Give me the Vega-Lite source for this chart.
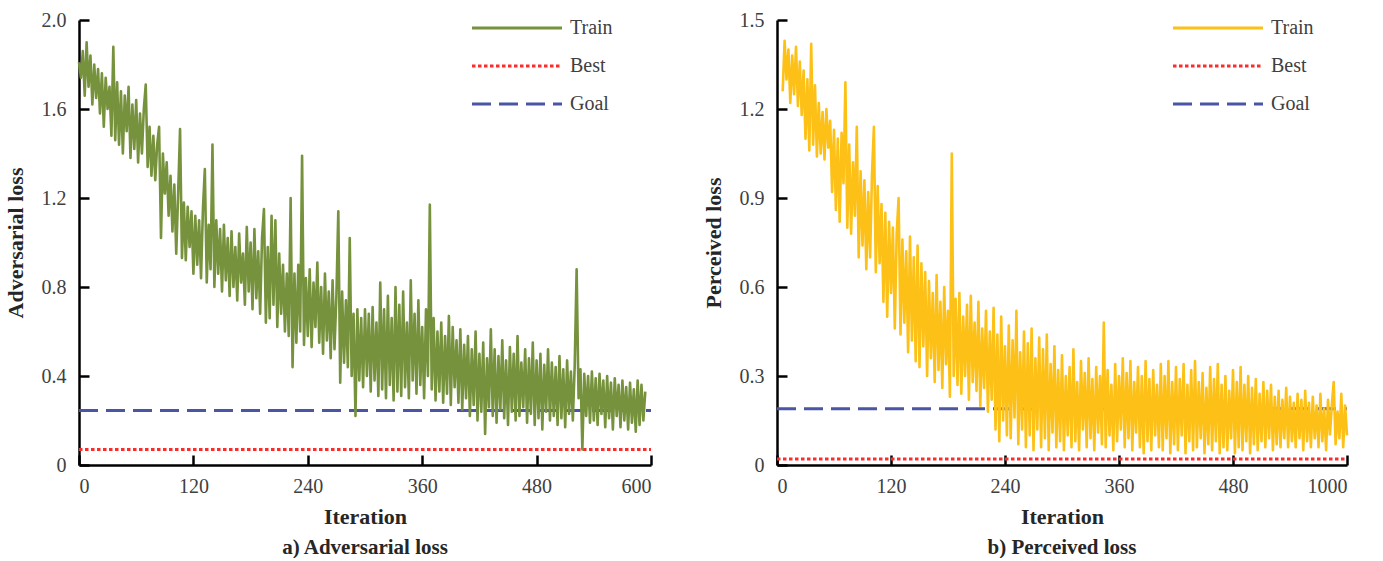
{
"$schema": "https://vega.github.io/schema/vega-lite/v6.json",
"background": "white",
"padding": {"left": 4, "top": 10, "right": 10, "bottom": 0},
"spacing": 49,
"config": {
  "font": "Liberation Serif",
  "view": {"stroke": null},
  "axis": {"grid": false, "domainColor": "black", "domainWidth": 2.5, "tickColor": "black", "tickWidth": 2.5, "tickSize": -10, "labelFontSize": 20, "labelColor": "#404040", "titleFontSize": 22, "titleFontWeight": "bold", "titleColor": "#262626"},
  "axisX": {"labelPadding": 21},
  "axisY": {"labelPadding": 23},
  "legend": {"orient": "none", "title": null, "labelFontSize": 20, "labelColor": "#404040", "symbolType": "M-1,0H17", "symbolSize": 100, "symbolStrokeWidth": 3, "labelOffset": 83, "rowPadding": 18},
  "title": {"orient": "bottom", "fontSize": 21, "fontWeight": "bold", "color": "#262626", "offset": 10},
  "line": {"strokeJoin": "round"}
},
"datasets": {
"adv": [
{"x":0,"y":1.81},{"x":2,"y":1.74},{"x":4,"y":1.86},{"x":6,"y":1.66},{"x":8,"y":1.90},{"x":10,"y":1.70},{"x":12,"y":1.84},{"x":14,"y":1.62},{"x":16,"y":1.80},{"x":18,"y":1.65},
{"x":20,"y":1.78},{"x":22,"y":1.58},{"x":24,"y":1.76},{"x":26,"y":1.52},{"x":28,"y":1.74},{"x":30,"y":1.60},{"x":32,"y":1.70},{"x":34,"y":1.48},{"x":36,"y":1.88},{"x":38,"y":1.46},
{"x":40,"y":1.72},{"x":42,"y":1.44},{"x":44,"y":1.68},{"x":46,"y":1.40},{"x":48,"y":1.66},{"x":50,"y":1.50},{"x":52,"y":1.70},{"x":54,"y":1.38},{"x":56,"y":1.62},{"x":58,"y":1.42},
{"x":60,"y":1.64},{"x":62,"y":1.36},{"x":64,"y":1.58},{"x":66,"y":1.40},{"x":68,"y":1.60},{"x":70,"y":1.71},{"x":72,"y":1.34},{"x":74,"y":1.52},{"x":76,"y":1.30},{"x":78,"y":1.48},
{"x":80,"y":1.28},{"x":82,"y":1.44},{"x":84,"y":1.52},{"x":86,"y":1.02},{"x":88,"y":1.40},{"x":90,"y":1.22},{"x":92,"y":1.36},{"x":94,"y":1.12},{"x":96,"y":1.30},{"x":98,"y":1.05},
{"x":100,"y":1.26},{"x":102,"y":0.95},{"x":104,"y":1.22},{"x":106,"y":1.51},{"x":108,"y":0.93},{"x":110,"y":1.18},{"x":112,"y":0.92},{"x":114,"y":1.16},{"x":116,"y":0.98},{"x":118,"y":1.14},
{"x":120,"y":0.86},{"x":122,"y":1.12},{"x":124,"y":0.90},{"x":126,"y":1.10},{"x":128,"y":0.84},{"x":130,"y":1.15},{"x":132,"y":1.33},{"x":134,"y":0.82},{"x":136,"y":1.08},{"x":138,"y":0.88},
{"x":140,"y":1.44},{"x":142,"y":0.80},{"x":144,"y":1.10},{"x":146,"y":0.86},{"x":148,"y":1.06},{"x":150,"y":0.78},{"x":152,"y":1.08},{"x":154,"y":0.83},{"x":156,"y":1.02},{"x":158,"y":0.76},
{"x":160,"y":1.05},{"x":162,"y":0.80},{"x":164,"y":0.98},{"x":166,"y":0.74},{"x":168,"y":1.04},{"x":170,"y":0.82},{"x":172,"y":0.95},{"x":174,"y":0.72},{"x":176,"y":1.07},{"x":178,"y":0.78},
{"x":180,"y":1.00},{"x":182,"y":0.70},{"x":184,"y":1.06},{"x":186,"y":0.75},{"x":188,"y":0.96},{"x":190,"y":0.68},{"x":192,"y":1.02},{"x":194,"y":1.15},{"x":196,"y":0.64},{"x":198,"y":0.98},
{"x":200,"y":0.66},{"x":202,"y":1.12},{"x":204,"y":0.72},{"x":206,"y":1.10},{"x":208,"y":0.62},{"x":210,"y":0.95},{"x":212,"y":0.68},{"x":214,"y":0.90},{"x":216,"y":0.60},{"x":218,"y":0.86},
{"x":220,"y":0.58},{"x":222,"y":1.20},{"x":224,"y":0.44},{"x":226,"y":0.86},{"x":228,"y":0.55},{"x":230,"y":0.90},{"x":232,"y":0.60},{"x":234,"y":1.39},{"x":236,"y":0.54},{"x":238,"y":0.84},
{"x":240,"y":0.58},{"x":242,"y":0.88},{"x":244,"y":0.53},{"x":246,"y":0.82},{"x":248,"y":0.62},{"x":250,"y":0.91},{"x":252,"y":0.55},{"x":254,"y":0.80},{"x":256,"y":0.50},{"x":258,"y":0.86},
{"x":260,"y":0.56},{"x":262,"y":0.78},{"x":264,"y":0.48},{"x":266,"y":0.83},{"x":268,"y":0.52},{"x":270,"y":0.76},{"x":272,"y":1.14},{"x":274,"y":0.37},{"x":276,"y":0.78},{"x":278,"y":0.46},
{"x":280,"y":0.74},{"x":282,"y":0.44},{"x":284,"y":1.02},{"x":286,"y":0.40},{"x":288,"y":0.68},{"x":290,"y":0.22},{"x":292,"y":0.70},{"x":294,"y":0.38},{"x":296,"y":0.66},{"x":298,"y":0.35},
{"x":300,"y":0.70},{"x":302,"y":0.40},{"x":304,"y":0.68},{"x":306,"y":0.33},{"x":308,"y":0.71},{"x":310,"y":0.38},{"x":312,"y":0.64},{"x":314,"y":0.31},{"x":316,"y":0.82},{"x":318,"y":0.34},
{"x":320,"y":0.70},{"x":322,"y":0.30},{"x":324,"y":0.76},{"x":326,"y":0.36},{"x":328,"y":0.66},{"x":330,"y":0.29},{"x":332,"y":0.80},{"x":334,"y":0.33},{"x":336,"y":0.72},{"x":338,"y":0.31},
{"x":340,"y":0.78},{"x":342,"y":0.35},{"x":344,"y":0.64},{"x":346,"y":0.30},{"x":348,"y":0.83},{"x":350,"y":0.38},{"x":352,"y":0.68},{"x":354,"y":0.32},{"x":356,"y":0.74},{"x":358,"y":0.36},
{"x":360,"y":0.62},{"x":362,"y":0.30},{"x":364,"y":0.70},{"x":366,"y":0.40},{"x":368,"y":1.17},{"x":370,"y":0.34},{"x":372,"y":0.66},{"x":374,"y":0.29},{"x":376,"y":0.60},{"x":378,"y":0.33},
{"x":380,"y":0.64},{"x":382,"y":0.28},{"x":384,"y":0.58},{"x":386,"y":0.32},{"x":388,"y":0.67},{"x":390,"y":0.27},{"x":392,"y":0.62},{"x":394,"y":0.35},{"x":396,"y":0.56},{"x":398,"y":0.28},
{"x":400,"y":0.61},{"x":402,"y":0.25},{"x":404,"y":0.54},{"x":406,"y":0.30},{"x":408,"y":0.58},{"x":410,"y":0.22},{"x":412,"y":0.52},{"x":414,"y":0.27},{"x":416,"y":0.60},{"x":418,"y":0.20},
{"x":420,"y":0.50},{"x":422,"y":0.24},{"x":424,"y":0.55},{"x":426,"y":0.14},{"x":428,"y":0.48},{"x":430,"y":0.26},{"x":432,"y":0.61},{"x":434,"y":0.22},{"x":436,"y":0.52},{"x":438,"y":0.19},
{"x":440,"y":0.49},{"x":442,"y":0.25},{"x":444,"y":0.56},{"x":446,"y":0.21},{"x":448,"y":0.47},{"x":450,"y":0.18},{"x":452,"y":0.53},{"x":454,"y":0.24},{"x":456,"y":0.50},{"x":458,"y":0.20},
{"x":460,"y":0.58},{"x":462,"y":0.22},{"x":464,"y":0.46},{"x":466,"y":0.26},{"x":468,"y":0.52},{"x":470,"y":0.19},{"x":472,"y":0.48},{"x":474,"y":0.23},{"x":476,"y":0.55},{"x":478,"y":0.18},
{"x":480,"y":0.47},{"x":482,"y":0.21},{"x":484,"y":0.50},{"x":486,"y":0.16},{"x":488,"y":0.45},{"x":490,"y":0.24},{"x":492,"y":0.52},{"x":494,"y":0.20},{"x":496,"y":0.46},{"x":498,"y":0.22},
{"x":500,"y":0.44},{"x":502,"y":0.18},{"x":504,"y":0.49},{"x":506,"y":0.21},{"x":508,"y":0.43},{"x":510,"y":0.17},{"x":512,"y":0.47},{"x":514,"y":0.23},{"x":516,"y":0.42},{"x":518,"y":0.20},
{"x":520,"y":0.45},{"x":522,"y":0.88},{"x":524,"y":0.30},{"x":526,"y":0.43},{"x":528,"y":0.07},{"x":530,"y":0.41},{"x":532,"y":0.22},{"x":534,"y":0.40},{"x":536,"y":0.19},{"x":538,"y":0.42},
{"x":540,"y":0.20},{"x":542,"y":0.39},{"x":544,"y":0.18},{"x":546,"y":0.41},{"x":548,"y":0.23},{"x":550,"y":0.38},{"x":552,"y":0.17},{"x":554,"y":0.40},{"x":556,"y":0.21},{"x":558,"y":0.37},
{"x":560,"y":0.16},{"x":562,"y":0.39},{"x":564,"y":0.22},{"x":566,"y":0.36},{"x":568,"y":0.17},{"x":570,"y":0.38},{"x":572,"y":0.20},{"x":574,"y":0.35},{"x":576,"y":0.16},{"x":578,"y":0.37},
{"x":580,"y":0.19},{"x":582,"y":0.34},{"x":584,"y":0.15},{"x":586,"y":0.38},{"x":588,"y":0.18},{"x":590,"y":0.36},{"x":592,"y":0.20},{"x":594,"y":0.33}
],
"per": [
{"x":6,"y":1.26},{"x":8,"y":1.43},{"x":10,"y":1.30},{"x":12,"y":1.40},{"x":14,"y":1.22},{"x":16,"y":1.38},{"x":18,"y":1.25},{"x":20,"y":1.41},{"x":22,"y":1.21},{"x":24,"y":1.36},
{"x":26,"y":1.18},{"x":28,"y":1.33},{"x":30,"y":1.10},{"x":32,"y":1.30},{"x":34,"y":1.06},{"x":36,"y":1.42},{"x":38,"y":1.08},{"x":40,"y":1.28},{"x":42,"y":1.04},{"x":44,"y":1.22},
{"x":46,"y":1.05},{"x":48,"y":1.19},{"x":50,"y":1.03},{"x":52,"y":1.20},{"x":54,"y":1.07},{"x":56,"y":1.16},{"x":58,"y":0.92},{"x":60,"y":1.13},{"x":62,"y":0.86},{"x":64,"y":1.10},
{"x":66,"y":0.82},{"x":68,"y":1.12},{"x":70,"y":0.95},{"x":72,"y":1.29},{"x":74,"y":0.80},{"x":76,"y":1.08},{"x":78,"y":0.78},{"x":80,"y":1.02},{"x":82,"y":0.84},{"x":84,"y":1.14},
{"x":86,"y":0.70},{"x":88,"y":0.99},{"x":90,"y":0.74},{"x":92,"y":0.96},{"x":94,"y":0.66},{"x":96,"y":0.92},{"x":98,"y":0.70},{"x":100,"y":0.98},{"x":102,"y":1.14},{"x":104,"y":0.65},
{"x":106,"y":0.94},{"x":108,"y":0.68},{"x":110,"y":0.88},{"x":112,"y":0.55},{"x":114,"y":0.85},{"x":116,"y":0.50},{"x":118,"y":0.82},{"x":120,"y":0.58},{"x":122,"y":0.80},{"x":124,"y":0.46},
{"x":126,"y":0.78},{"x":128,"y":0.90},{"x":130,"y":0.44},{"x":132,"y":0.76},{"x":134,"y":0.48},{"x":136,"y":0.72},{"x":138,"y":0.38},{"x":140,"y":0.77},{"x":142,"y":0.42},{"x":144,"y":0.70},
{"x":146,"y":0.35},{"x":148,"y":0.74},{"x":150,"y":0.33},{"x":152,"y":0.68},{"x":154,"y":0.40},{"x":156,"y":0.65},{"x":158,"y":0.30},{"x":160,"y":0.62},{"x":162,"y":0.36},{"x":164,"y":0.58},
{"x":166,"y":0.28},{"x":168,"y":0.64},{"x":170,"y":0.32},{"x":172,"y":0.55},{"x":174,"y":0.26},{"x":176,"y":0.60},{"x":178,"y":0.34},{"x":180,"y":0.52},{"x":182,"y":0.23},{"x":184,"y":1.05},
{"x":186,"y":0.30},{"x":188,"y":0.56},{"x":190,"y":0.27},{"x":192,"y":0.58},{"x":194,"y":0.24},{"x":196,"y":0.50},{"x":198,"y":0.30},{"x":200,"y":0.54},{"x":202,"y":0.22},{"x":204,"y":0.57},
{"x":206,"y":0.28},{"x":208,"y":0.48},{"x":210,"y":0.25},{"x":212,"y":0.55},{"x":214,"y":0.20},{"x":216,"y":0.46},{"x":218,"y":0.26},{"x":220,"y":0.52},{"x":222,"y":0.18},{"x":224,"y":0.45},
{"x":226,"y":0.22},{"x":228,"y":0.53},{"x":230,"y":0.12},{"x":232,"y":0.44},{"x":234,"y":0.08},{"x":236,"y":0.50},{"x":238,"y":0.15},{"x":240,"y":0.40},{"x":242,"y":0.10},{"x":244,"y":0.47},
{"x":246,"y":0.09},{"x":248,"y":0.42},{"x":250,"y":0.16},{"x":252,"y":0.52},{"x":254,"y":0.07},{"x":256,"y":0.38},{"x":258,"y":0.12},{"x":260,"y":0.45},{"x":262,"y":0.06},{"x":264,"y":0.41},
{"x":266,"y":0.10},{"x":268,"y":0.46},{"x":270,"y":0.05},{"x":272,"y":0.36},{"x":274,"y":0.12},{"x":276,"y":0.43},{"x":278,"y":0.06},{"x":280,"y":0.39},{"x":282,"y":0.09},{"x":284,"y":0.44},
{"x":286,"y":0.05},{"x":288,"y":0.34},{"x":290,"y":0.11},{"x":292,"y":0.40},{"x":294,"y":0.06},{"x":296,"y":0.32},{"x":298,"y":0.08},{"x":300,"y":0.37},{"x":302,"y":0.05},{"x":304,"y":0.30},
{"x":306,"y":0.10},{"x":308,"y":0.33},{"x":310,"y":0.06},{"x":312,"y":0.39},{"x":314,"y":0.08},{"x":316,"y":0.28},{"x":318,"y":0.05},{"x":320,"y":0.35},{"x":322,"y":0.12},{"x":324,"y":0.31},
{"x":326,"y":0.06},{"x":328,"y":0.36},{"x":330,"y":0.09},{"x":332,"y":0.29},{"x":334,"y":0.05},{"x":336,"y":0.33},{"x":338,"y":0.11},{"x":340,"y":0.30},{"x":342,"y":0.07},{"x":344,"y":0.48},
{"x":346,"y":0.06},{"x":348,"y":0.32},{"x":350,"y":0.10},{"x":352,"y":0.27},{"x":354,"y":0.05},{"x":356,"y":0.34},{"x":358,"y":0.08},{"x":360,"y":0.30},{"x":362,"y":0.12},{"x":364,"y":0.36},
{"x":366,"y":0.06},{"x":368,"y":0.31},{"x":370,"y":0.09},{"x":372,"y":0.35},{"x":374,"y":0.05},{"x":376,"y":0.28},{"x":378,"y":0.11},{"x":380,"y":0.33},{"x":382,"y":0.06},{"x":384,"y":0.30},
{"x":386,"y":0.04},{"x":388,"y":0.35},{"x":390,"y":0.08},{"x":392,"y":0.29},{"x":394,"y":0.05},{"x":396,"y":0.32},{"x":398,"y":0.10},{"x":400,"y":0.27},{"x":402,"y":0.06},{"x":404,"y":0.34},
{"x":406,"y":0.05},{"x":408,"y":0.30},{"x":410,"y":0.09},{"x":412,"y":0.35},{"x":414,"y":0.04},{"x":416,"y":0.28},{"x":418,"y":0.07},{"x":420,"y":0.33},{"x":422,"y":0.05},{"x":424,"y":0.29},
{"x":426,"y":0.10},{"x":428,"y":0.34},{"x":430,"y":0.04},{"x":432,"y":0.27},{"x":434,"y":0.08},{"x":436,"y":0.32},{"x":438,"y":0.05},{"x":440,"y":0.35},{"x":442,"y":0.06},{"x":444,"y":0.28},
{"x":446,"y":0.09},{"x":448,"y":0.31},{"x":450,"y":0.04},{"x":452,"y":0.26},{"x":454,"y":0.07},{"x":456,"y":0.33},{"x":458,"y":0.05},{"x":460,"y":0.29},{"x":462,"y":0.08},{"x":464,"y":0.34},
{"x":466,"y":0.04},{"x":468,"y":0.27},{"x":470,"y":0.06},{"x":472,"y":0.30},{"x":474,"y":0.05},{"x":476,"y":0.25},{"x":478,"y":0.09},{"x":480,"y":0.32},{"x":482,"y":0.04},{"x":484,"y":0.28},
{"x":486,"y":0.06},{"x":488,"y":0.33},{"x":490,"y":0.05},{"x":492,"y":0.27},{"x":494,"y":0.08},{"x":496,"y":0.30},{"x":498,"y":0.04},{"x":500,"y":0.26},{"x":502,"y":0.07},{"x":504,"y":0.29},
{"x":506,"y":0.05},{"x":508,"y":0.24},{"x":510,"y":0.08},{"x":512,"y":0.28},{"x":514,"y":0.06},{"x":516,"y":0.25},{"x":518,"y":0.09},{"x":520,"y":0.27},{"x":522,"y":0.05},{"x":524,"y":0.23},
{"x":526,"y":0.07},{"x":528,"y":0.25},{"x":530,"y":0.06},{"x":532,"y":0.22},{"x":534,"y":0.09},{"x":536,"y":0.26},{"x":538,"y":0.06},{"x":540,"y":0.23},{"x":542,"y":0.08},{"x":544,"y":0.21},
{"x":546,"y":0.06},{"x":548,"y":0.24},{"x":550,"y":0.09},{"x":552,"y":0.22},{"x":554,"y":0.05},{"x":556,"y":0.25},{"x":558,"y":0.08},{"x":560,"y":0.21},{"x":562,"y":0.06},{"x":564,"y":0.23},
{"x":566,"y":0.09},{"x":568,"y":0.20},{"x":570,"y":0.06},{"x":572,"y":0.24},{"x":574,"y":0.08},{"x":576,"y":0.19},{"x":578,"y":0.05},{"x":580,"y":0.22},{"x":582,"y":0.10},{"x":584,"y":0.20},
{"x":586,"y":0.28},{"x":588,"y":0.07},{"x":590,"y":0.18},{"x":592,"y":0.09},{"x":594,"y":0.24},{"x":596,"y":0.06},{"x":598,"y":0.20},{"x":600,"y":0.10}
]
},
"hconcat": [
 {
  "width": 572, "height": 445,
  "title": {"text": "a) Adversarial loss"},
  "encoding": {
    "x": {"field": "x", "type": "quantitative", "scale": {"domain": [0, 600], "nice": false}, "axis": {"values": [0, 120, 240, 360, 480, 600], "title": "Iteration", "titlePadding": 10}},
    "y": {"field": "y", "type": "quantitative", "scale": {"domain": [0, 2], "nice": false}, "axis": {"values": [0, 0.4, 0.8, 1.2, 1.6, 2.0], "labelExpr": "datum.value == 0 ? '0' : format(datum.value, '.1f')", "title": "Adversarial loss", "titlePadding": 14}}
  },
  "layer": [
   {
    "data": {"values": [{"x": 0, "y": 0.07, "s": "Best"}, {"x": 600, "y": 0.07, "s": "Best"}, {"x": 0, "y": 0.245, "s": "Goal"}, {"x": 600, "y": 0.245, "s": "Goal"}]},
    "mark": {"type": "line", "strokeWidth": 3},
    "encoding": {
      "color": {"field": "s", "type": "nominal", "scale": {"domain": ["Train", "Best", "Goal"], "range": ["#76923C", "#FF2A2A", "#4A55A6"]}, "legend": {"legendX": 388, "legendY": -2}},
      "strokeDash": {"field": "s", "type": "nominal", "scale": {"domain": ["Train", "Best", "Goal"], "range": [[1, 0], [3.5, 2.5], [19, 8]]}, "legend": {"legendX": 388, "legendY": -2}}
    }
   },
   {
    "data": {"name": "adv"},
    "mark": {"type": "line", "strokeWidth": 2.6},
    "encoding": {
      "color": {"datum": "Train", "type": "nominal", "scale": {"domain": ["Train", "Best", "Goal"], "range": ["#76923C", "#FF2A2A", "#4A55A6"]}},
      "strokeDash": {"datum": "Train", "type": "nominal", "scale": {"domain": ["Train", "Best", "Goal"], "range": [[1, 0], [3.5, 2.5], [19, 8]]}}
    }
   }
  ]
 },
 {
  "width": 570, "height": 445,
  "title": {"text": "b) Perceived loss"},
  "encoding": {
    "x": {"field": "x", "type": "quantitative", "scale": {"domain": [0, 600], "nice": false}, "axis": {"values": [0, 120, 240, 360, 480, 600], "labelExpr": "datum.value == 600 ? '1000' : datum.label", "title": "Iteration", "titlePadding": 10}},
    "y": {"field": "y", "type": "quantitative", "scale": {"domain": [0, 1.5], "nice": false}, "axis": {"values": [0, 0.3, 0.6, 0.9, 1.2, 1.5], "labelExpr": "datum.value == 0 ? '0' : format(datum.value, '.1f')", "title": "Perceived loss", "titlePadding": 14}}
  },
  "layer": [
   {
    "data": {"values": [{"x": 0, "y": 0.02, "s": "Best"}, {"x": 600, "y": 0.02, "s": "Best"}, {"x": 0, "y": 0.19, "s": "Goal"}, {"x": 600, "y": 0.19, "s": "Goal"}]},
    "mark": {"type": "line", "strokeWidth": 3},
    "encoding": {
      "color": {"field": "s", "type": "nominal", "scale": {"domain": ["Train", "Best", "Goal"], "range": ["#FCC016", "#FF2A2A", "#4A55A6"]}, "legend": {"legendX": 391, "legendY": -2}},
      "strokeDash": {"field": "s", "type": "nominal", "scale": {"domain": ["Train", "Best", "Goal"], "range": [[1, 0], [3.5, 2.5], [19, 8]]}, "legend": {"legendX": 391, "legendY": -2}}
    }
   },
   {
    "data": {"name": "per"},
    "mark": {"type": "line", "strokeWidth": 2.6},
    "encoding": {
      "color": {"datum": "Train", "type": "nominal", "scale": {"domain": ["Train", "Best", "Goal"], "range": ["#FCC016", "#FF2A2A", "#4A55A6"]}},
      "strokeDash": {"datum": "Train", "type": "nominal", "scale": {"domain": ["Train", "Best", "Goal"], "range": [[1, 0], [3.5, 2.5], [19, 8]]}}
    }
   }
  ]
 }
],
"resolve": {"scale": {"color": "independent", "strokeDash": "independent"}}
}
